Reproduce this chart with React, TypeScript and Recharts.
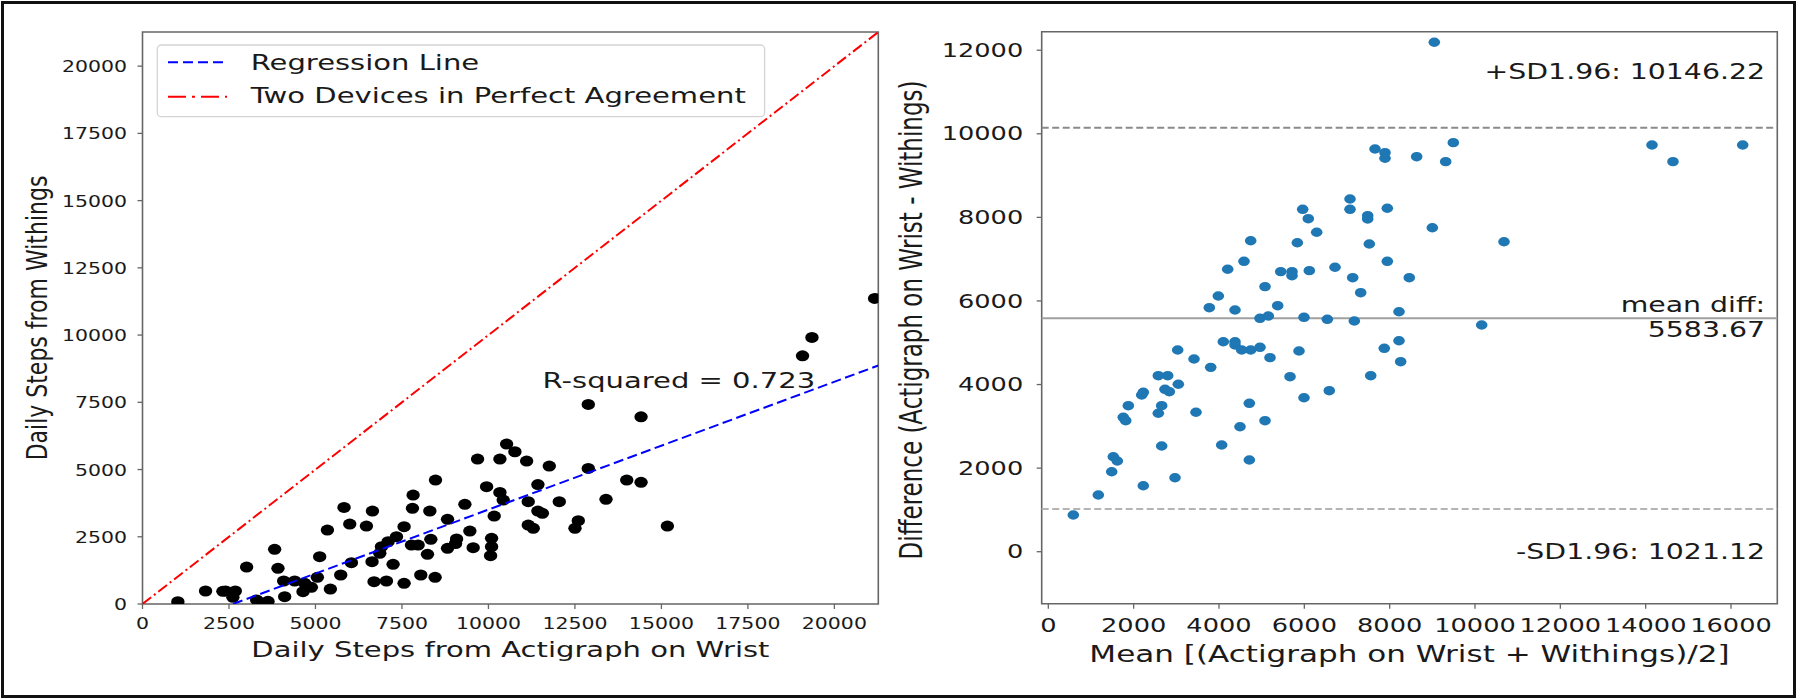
import React from 'react';
import {
  ScatterChart,
  Scatter,
  XAxis,
  YAxis,
  ReferenceLine,
  ReferenceArea,
  ReferenceDot,
  Label,
} from 'recharts';

const FONT = '"DejaVu Sans", sans-serif';
const INK = '#1a1a1a';
const FRAME = '#666';

// the original figure is stretched sideways, text included
const S_LEFT = 1.32;
const S_RIGHT = 1.35;

// ---- left panel: daily steps, Actigraph on wrist vs Withings ----
const actigraphWrist = [
  1022, 1823, 2324, 2402, 2683, 2613, 3010, 3820, 3916, 3300, 3386, 3627, 3500, 4110, 4081,
  4399, 4640, 4881, 4688, 5055, 5122, 5431, 5730, 5345, 5826, 5991, 6039, 6473, 6647, 6636,
  6694, 6859, 6908, 7052, 7100, 7244, 7342, 7562, 7562, 7775, 7968, 7804, 7823, 8045, 8238,
  8335, 8306, 8459, 8470, 8818, 8818, 9079, 9050, 9319, 9463, 9559, 9947, 10167, 10091, 10091,
  10062, 10332, 10428, 9686, 10332, 10525, 10765, 11104, 11151, 11151, 11296, 11430, 11430, 11560, 11759,
  12887, 12048, 13399, 13998, 14412, 12598, 12502, 15173, 12887, 14412, 19080, 19352, 21164,
];
const withings = [
  85, 483, 470, 483, 483, 250, 1375, 2033, 1327, 150, 60, 100, 30, 272, 855,
  855, 458, 620, 768, 992, 1759, 557, 1078, 2751, 3593, 2973, 1537, 2899, 3457, 1574,
  830, 1883, 2131, 855, 2317, 1474, 2503, 2875, 768, 2193, 2193, 3556, 4051, 1078, 1846,
  2404, 3457, 992, 4609, 2070, 3148, 2420, 2250, 3705, 2713, 2093, 4361, 3271, 2442, 2131,
  1797, 4150, 3866, 5390, 5390, 5947, 5661, 5315, 3803, 2936, 2814, 4440, 3457, 3370, 5129,
  5043, 3803, 3892, 4609, 4523, 3097, 2814, 2899, 7423, 6962, 9230, 9913, 11363,
];
const leftTicks = [0, 2500, 5000, 7500, 10000, 12500, 15000, 17500, 20000];
const leftMax = 21270;
const regSlope = 0.4754;
const regIntercept = -1244;
const rSquaredLabel = 'R-squared = 0.723';
const rSquaredAt = { x: 11565, y: 8030 };

const legendItems = [
  { label: 'Regression Line', color: '#0000ff', dash: '10 5' },
  { label: 'Two Devices in Perfect Agreement', color: '#ff0000', dash: '18 6 3 6' },
];

// ---- right panel: Bland-Altman ----
const baMean = [
  586, 1172, 1486, 1523, 1617, 2226, 2969, 2657, 4063, 4711, 4493, 5079, 3461, 4711, 1757,
  1814, 1875, 2578, 2657, 2189, 2226, 2735, 2836, 3047, 2578, 2798, 3032, 3415, 3806, 4101,
  4376, 4376, 4532, 4743, 4961, 5196, 5665, 5992, 6585, 5875, 7556, 7874, 8219, 8258,
  9046, 7657, 7891, 7891, 8633, 7071, 7071, 7485, 7485, 7945, 9000, 5962, 6093, 6290, 4743,
  5836, 7523, 4586, 7945, 4204, 5447, 5711, 5711, 6117, 6719, 7134, 8460, 5079, 7321, 3984,
  3773, 4376, 5376, 8219, 4961, 5156, 5992, 6539, 7172,
  9492, 9313, 10680, 10157, 14148, 14640, 16274,
];
const baDiff = [
  878, 1357, 1914, 2273, 2170, 1579, 1771, 2529, 2553, 2194, 2991, 3135, 3336, 3551, 3216,
  3135, 3494, 3312, 3494, 3750, 3814, 3886, 3829, 4006, 4212, 4212, 4827, 4611, 4412, 5025,
  5025, 4946, 4827, 4827, 4891, 4643, 4188, 3685, 3853, 4803, 4212, 4867, 5049, 4547,
  12190, 9637, 9548, 9414, 9452, 8440, 8193, 8041, 7962, 8218, 7753, 8193, 7969, 7643, 7442,
  7394, 7363, 6949, 6949, 6758, 6701, 6701, 6605, 6725, 6806, 6557, 6557, 6342, 6198, 6119,
  5839, 5784, 5887, 5743, 5585, 5640, 5609, 5561, 5521,
  9788, 9333, 7418, 5425, 9732, 9333, 9732,
];
const meanDiff = 5583.67;
const upperLoA = 10146.22;
const lowerLoA = 1021.12;
const rightXTicks = [0, 2000, 4000, 6000, 8000, 10000, 12000, 14000, 16000];
const rightYTicks = [0, 2000, 4000, 6000, 8000, 10000, 12000];
const rightXDomain = [-155, 17085];
const rightYDomain = [-1244, 12443];

const leftData = actigraphWrist.map((x, i) => ({ x, y: withings[i] }));
const rightData = baMean.map((x, i) => ({ x, y: baDiff[i] }));
const identityLine = [
  { x: 0, y: 0 },
  { x: leftMax, y: leftMax },
];
const regStartX = -regIntercept / regSlope;
const regressionLine = [
  { x: regStartX, y: 0 },
  { x: leftMax, y: regSlope * leftMax + regIntercept },
];

// right panel svg starts a little left of the page middle so its y title fits
const RIGHT_LEFT = 860;

function SText({ x, y, size, sx, anchor = 'start', rotate = false, children }: any) {
  return (
    <text
      transform={`translate(${x},${y}) scale(${sx},1)${rotate ? ' rotate(-90)' : ''}`}
      textAnchor={anchor}
      fontSize={size}
      fontFamily={FONT}
      fill={INK}
    >
      {children}
    </text>
  );
}

const LeftXTick = (p: any) => (
  <SText x={p.x} y={p.y + 17.5} size={15.5} sx={S_LEFT} anchor="middle">{p.payload.value}</SText>
);
const LeftYTick = (p: any) => (
  <SText x={p.x - 8.5} y={p.y + 6} size={15.5} sx={S_LEFT} anchor="end">{p.payload.value}</SText>
);
const RightXTick = (p: any) => (
  <SText x={p.x} y={p.y + 21} size={19} sx={S_RIGHT} anchor="middle">{p.payload.value}</SText>
);
const RightYTick = (p: any) => (
  <SText x={p.x - 11.5} y={p.y + 6.7} size={19} sx={S_RIGHT} anchor="end">{p.payload.value}</SText>
);

const blackDot = (p: any) => <ellipse cx={p.cx} cy={p.cy} rx={6.7} ry={5.5} fill="#000" />;
const blueDot = (p: any) => <ellipse cx={p.cx} cy={p.cy} rx={5.8} ry={4.7} fill="#1f77b4" />;
const noDot = () => null;

const LeftPanel = () => (
  <div style={{ position: 'absolute', left: 0, top: 0, width: 900, height: 699 }}>
    <ScatterChart width={900} height={699} margin={{ top: 32, right: 21.7, bottom: 0, left: 0 }}>
      <XAxis
        type="number"
        dataKey="x"
        domain={[0, leftMax]}
        ticks={leftTicks}
        interval={0}
        allowDataOverflow
        axisLine={false}
        tickLine={{ stroke: FRAME, strokeWidth: 1.3 }}
        tickSize={5}
        height={95}
        tick={<LeftXTick />}
      >
        <Label
          content={(p: any) => (
            <SText x={p.viewBox.x + p.viewBox.width / 2} y={656.5} size={22} sx={S_LEFT} anchor="middle">
              Daily Steps from Actigraph on Wrist
            </SText>
          )}
        />
      </XAxis>
      <YAxis
        type="number"
        dataKey="y"
        domain={[0, leftMax]}
        ticks={leftTicks}
        interval={0}
        allowDataOverflow
        axisLine={false}
        tickLine={{ stroke: FRAME, strokeWidth: 1.3 }}
        tickSize={5}
        width={142.5}
        tick={<LeftYTick />}
      >
        <Label
          content={() => (
            <SText x={46.5} y={318} size={22} sx={S_LEFT} anchor="middle" rotate>
              Daily Steps from Withings
            </SText>
          )}
        />
      </YAxis>
      <ReferenceArea x1={0} x2={leftMax} y1={0} y2={leftMax} fill="none" stroke={FRAME} strokeWidth={1.6} />
      <Scatter data={leftData} shape={blackDot} isAnimationActive={false} />
      <Scatter
        data={identityLine}
        line={{ stroke: '#ff0000', strokeWidth: 2, strokeDasharray: '11 3.5 2 3.5' }}
        shape={noDot}
        isAnimationActive={false}
      />
      <Scatter
        data={regressionLine}
        line={{ stroke: '#0000ff', strokeWidth: 2, strokeDasharray: '10 4.5' }}
        shape={noDot}
        isAnimationActive={false}
      />
      <ReferenceDot
        x={rSquaredAt.x}
        y={rSquaredAt.y}
        ifOverflow="visible"
        shape={(p: any) => (
          <SText x={p.cx} y={p.cy} size={22} sx={S_LEFT}>{rSquaredLabel}</SText>
        )}
      />
    </ScatterChart>
    <svg width={900} height={699} style={{ position: 'absolute', left: 0, top: 0, pointerEvents: 'none' }}>
      <rect x={157.3} y={45} width={607.3} height={71.7} rx={4} fill="#fff" fillOpacity={0.85} stroke="#d4d4d4" strokeWidth={1.3} />
      {legendItems.map((item, i) => (
        <g key={item.label}>
          <line
            x1={168}
            x2={227}
            y1={62.3 + i * 34.4}
            y2={62.3 + i * 34.4}
            stroke={item.color}
            strokeWidth={2}
            strokeDasharray={item.dash}
          />
          <SText x={250.7} y={70 + i * 33.3} size={22} sx={S_LEFT}>{item.label}</SText>
        </g>
      ))}
    </svg>
  </div>
);

const RightPanel = () => (
  <div style={{ position: 'absolute', left: RIGHT_LEFT, top: 0, width: 1800 - RIGHT_LEFT, height: 699 }}>
    <ScatterChart
      width={1800 - RIGHT_LEFT}
      height={699}
      margin={{ top: 31.7, right: 22.7, bottom: 0, left: 0 }}
    >
      <XAxis
        type="number"
        dataKey="x"
        domain={rightXDomain}
        ticks={rightXTicks}
        interval={0}
        allowDataOverflow
        axisLine={false}
        tickLine={{ stroke: FRAME, strokeWidth: 1.3 }}
        tickSize={5}
        height={95.3}
        tick={<RightXTick />}
      >
        <Label
          content={(p: any) => (
            <SText x={p.viewBox.x + p.viewBox.width / 2} y={661.7} size={23} sx={S_RIGHT} anchor="middle">
              Mean [(Actigraph on Wrist + Withings)/2]
            </SText>
          )}
        />
      </XAxis>
      <YAxis
        type="number"
        dataKey="y"
        domain={rightYDomain}
        ticks={rightYTicks}
        interval={0}
        allowDataOverflow
        axisLine={false}
        tickLine={{ stroke: FRAME, strokeWidth: 1.3 }}
        tickSize={5}
        width={1041.7 - RIGHT_LEFT}
        tick={<RightYTick />}
      >
        <Label
          content={() => (
            <SText x={922 - RIGHT_LEFT} y={320} size={23} sx={S_RIGHT} anchor="middle" rotate>
              Difference (Actigraph on Wrist - Withings)
            </SText>
          )}
        />
      </YAxis>
      <ReferenceArea
        x1={rightXDomain[0]}
        x2={rightXDomain[1]}
        y1={rightYDomain[0]}
        y2={rightYDomain[1]}
        fill="none"
        stroke={FRAME}
        strokeWidth={1.6}
      />
      <ReferenceLine y={upperLoA} stroke="#8a8a8a" strokeWidth={2} strokeDasharray="7 3.5" />
      <ReferenceLine y={meanDiff} stroke="#a0a0a0" strokeWidth={2} />
      <ReferenceLine y={lowerLoA} stroke="#b4b4b4" strokeWidth={2} strokeDasharray="7 3.5" />
      <Scatter data={rightData} shape={blueDot} isAnimationActive={false} />
      <ReferenceDot
        x={rightXDomain[1]}
        y={upperLoA}
        ifOverflow="visible"
        shape={(p: any) => (
          <SText x={p.cx - 12.3} y={p.cy - 48.7} size={21} sx={S_RIGHT} anchor="end">
            {`+SD1.96: ${upperLoA.toFixed(2)}`}
          </SText>
        )}
      />
      <ReferenceDot
        x={rightXDomain[1]}
        y={meanDiff}
        ifOverflow="visible"
        shape={(p: any) => (
          <g>
            <SText x={p.cx - 12.3} y={p.cy - 6.3} size={21} sx={S_RIGHT} anchor="end">mean diff:</SText>
            <SText x={p.cx - 12.3} y={p.cy + 19} size={21} sx={S_RIGHT} anchor="end">{meanDiff.toFixed(2)}</SText>
          </g>
        )}
      />
      <ReferenceDot
        x={rightXDomain[1]}
        y={lowerLoA}
        ifOverflow="visible"
        shape={(p: any) => (
          <SText x={p.cx - 12.3} y={p.cy + 50.3} size={21} sx={S_RIGHT} anchor="end">
            {`-SD1.96: ${lowerLoA.toFixed(2)}`}
          </SText>
        )}
      />
    </ScatterChart>
  </div>
);

export default function App() {
  return (
    <div style={{ position: 'absolute', left: 0, top: 0, width: 1800, height: 699, background: '#fff', overflow: 'hidden' }}>
      <LeftPanel />
      <RightPanel />
      <div
        style={{
          position: 'absolute',
          left: 1,
          top: 1,
          width: 1795,
          height: 697,
          border: '3px solid #111',
          boxSizing: 'border-box',
          pointerEvents: 'none',
        }}
      />
    </div>
  );
}
